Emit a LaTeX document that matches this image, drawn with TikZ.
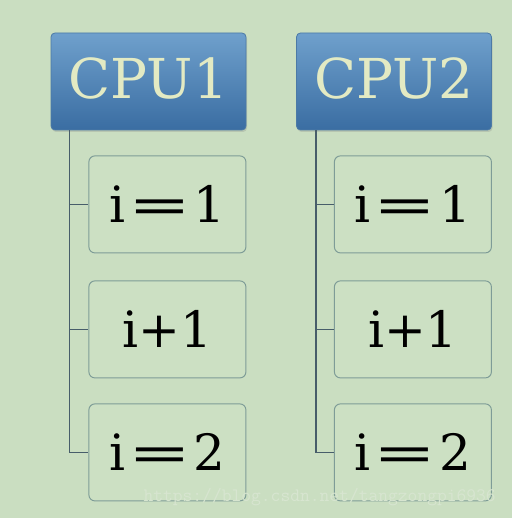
\documentclass[tikz,border=0pt]{standalone}
\usepackage{fontspec}
\setmainfont{DejaVu Serif}
\usetikzlibrary{positioning,calc,shadows}
\definecolor{BGc}{HTML}{CADEC1}
\definecolor{CPUtop}{HTML}{6FA0CC}
\definecolor{CPUbot}{HTML}{3A6DA2}
\definecolor{CPUbd}{HTML}{4C7AA6}
\definecolor{CPUtxt}{HTML}{E3EAC3}
\definecolor{STEPbd}{HTML}{7E9C97}
\definecolor{STEPfill}{HTML}{CCE0C3}
\definecolor{LINKc}{HTML}{475D6A}
\definecolor{WMc}{HTML}{D7E5D0}
% wide equals sign
\newcommand{\wideeq}{\hspace{0.06em}\scalebox{1.5}[1]{=}\hspace{0.06em}}

\begin{document}
\begin{tikzpicture}[
  x=1pt, y=1pt,
  % blue header box
  cpubox/.style={draw=CPUbd, line width=0.8, rounded corners=4pt,
                 top color=CPUtop, bottom color=CPUbot, text=CPUtxt,
                 minimum width=195pt, minimum height=97pt, inner sep=0pt,
                 text depth=6pt, font=\fontsize{55}{55}\selectfont,
                 drop shadow={opacity=0.25, shadow xshift=1pt, shadow yshift=-2pt}},
  % child box
  stepbox/.style={draw=STEPbd, line width=1.0, rounded corners=6pt, fill=STEPfill,
                  minimum width=157pt, minimum height=97pt, inner sep=0pt,
                  font=\fontsize{50}{50}\selectfont},
  % tree line
  link/.style={draw=LINKc, line width=1.4},
]

% ---------- Background ----------
\fill[BGc] (0,0) rectangle (512,-518);
\useasboundingbox (0,0) rectangle (512,-518);

% ---------- Headers ----------
\node[cpubox] (cpu1) at (148.5,-81.5) {CPU1};
\node[cpubox] (cpu2) at (394,-81.5) {CPU2};

% ---------- Children ----------
\node[stepbox, below=25pt of cpu1.south east, anchor=north east] (a1) {i\wideeq1};
\node[stepbox, below=27pt of a1] (a2) {i+1};
\node[stepbox, below=25pt of a2] (a3) {i\wideeq2};
\node[stepbox, below=25pt of cpu2.south east, anchor=north east] (b1) {i\wideeq1};
\node[stepbox, below=27pt of b1] (b2) {i+1};
\node[stepbox, below=25pt of b2] (b3) {i\wideeq2};

% ---------- Tree lines ----------
\coordinate (t1) at ($(cpu1.south west)+(19,0)$);
\coordinate (t2) at ($(cpu2.south west)+(20,0)$);
\foreach \c in {a1,a2,a3} \draw[link] (t1) |- (\c.west);
\foreach \c in {b1,b2,b3} \draw[link] (t2) |- (\c.west);

% ---------- Watermark ----------
\node[font=\ttfamily\fontsize{19}{19}\selectfont, text=WMc, anchor=west] (wm) at (140,-497)
  {https://blog.csdn.net/tangzongpi6936};

\end{tikzpicture}
\end{document}
